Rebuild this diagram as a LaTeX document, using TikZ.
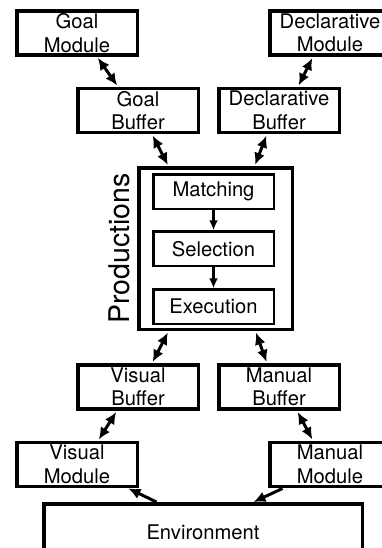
\documentclass[tikz,border=0pt]{standalone}
\usepackage{fontspec}
\setmainfont{TeX Gyre Heros}
\usetikzlibrary{positioning,arrows.meta}
\tikzstyle{modbox}=[rectangle, draw=black, line width=3.5pt, minimum width=120.5pt, minimum height=44pt, inner sep=1pt, align=center, font=\fontsize{20.2}{23.5}\selectfont]
\tikzstyle{stepbox}=[rectangle, draw=black, line width=2.5pt, minimum width=120.5pt, minimum height=34.5pt, inner sep=1pt, font=\fontsize{20.2}{23.5}\selectfont]
\tikzstyle{prodbox}=[rectangle, draw=black, line width=3.5pt, minimum width=153.5pt, minimum height=161.5pt]
\tikzstyle{envbox}=[rectangle, draw=black, line width=3.5pt, minimum width=318.5pt, minimum height=56.5pt, font=\fontsize{20.2}{23.5}\selectfont]
\tikzstyle{twoway}=[{Latex[length=12pt,width=11pt]}-{Latex[length=12pt,width=11pt]}, line width=3pt, shorten <=1.5pt, shorten >=1.5pt]
\tikzstyle{oneway}=[-{Latex[length=12pt,width=11pt]}, line width=3pt, shorten <=0.5pt, shorten >=0.5pt]
\tikzstyle{stepline}=[-{Latex[length=10pt,width=9pt]}, line width=2.2pt]

\begin{document}
\begin{tikzpicture}[x=1pt,y=1pt]
\useasboundingbox (0,0) rectangle (382,-548);
\clip (0,0) rectangle (382,-548);
%Nodes
\node[modbox]      (goalmod)   at (77,-33)                            {Goal\\Module};
\node[modbox]      (goalbuf)   [below=30pt of goalmod, xshift=61pt]   {Goal\\Buffer};
\node[modbox]      (declbuf)   [right=17pt of goalbuf]                {Declarative\\Buffer};
\node[modbox]      (declmod)   [above=30pt of declbuf, xshift=51pt]   {Declarative\\Module};
\node[prodbox]     (prod)      [below=32pt of goalbuf, xshift=77.5pt] {};
\node[stepbox]     (match)     [below=7pt of prod.north, xshift=-2pt] {Matching};
\node[stepbox]     (sel)       [below=20pt of match]                  {Selection};
\node[stepbox]     (exec)      [below=21pt of sel]                    {Execution};
\node[inner sep=0pt, font=\fontsize{28.5}{34}\selectfont] (prodlabel) [left=7pt of prod, anchor=south, rotate=90] {Productions};
\node[modbox]      (visbuf)    [below=32pt of prod, xshift=-77.5pt]   {Visual\\Buffer};
\node[modbox]      (manbuf)    [right=17pt of visbuf]                 {Manual\\Buffer};
\node[modbox]      (vismod)    [below=30pt of visbuf, xshift=-61pt]   {Visual\\Module};
\node[modbox]      (manmod)    [below=30pt of manbuf, xshift=51pt]    {Manual\\Module};
\node[envbox]      (env)       [below=14pt of vismod, xshift=126pt]   {Environment};
%Lines
\draw[twoway] ([xshift=20pt]goalmod.south) -- ([xshift=-20pt]goalbuf.north);
\draw[twoway] ([xshift=-17pt]declmod.south) -- ([xshift=19pt]declbuf.north);
\draw[twoway] ([xshift=14pt]goalbuf.south) -- ([xshift=-47pt]prod.north);
\draw[twoway] ([xshift=-12pt]declbuf.south) -- ([xshift=39pt]prod.north);
\draw[stepline] (match.south) -- (sel.north);
\draw[stepline] (sel.south) -- (exec.north);
\draw[twoway] ([xshift=-47pt]prod.south) -- ([xshift=14pt]visbuf.north);
\draw[twoway] ([xshift=40pt]prod.south) -- ([xshift=-12pt]manbuf.north);
\draw[twoway] ([xshift=-21pt]visbuf.south) -- ([xshift=21pt]vismod.north);
\draw[twoway] ([xshift=18pt]manbuf.south) -- ([xshift=-17pt]manmod.north);
\draw[oneway] ([xshift=-46pt]env.north) -- ([xshift=51pt]vismod.south);
\draw[oneway] ([xshift=-47pt]manmod.south) -- ([xshift=50pt]env.north);
\end{tikzpicture}
\end{document}
